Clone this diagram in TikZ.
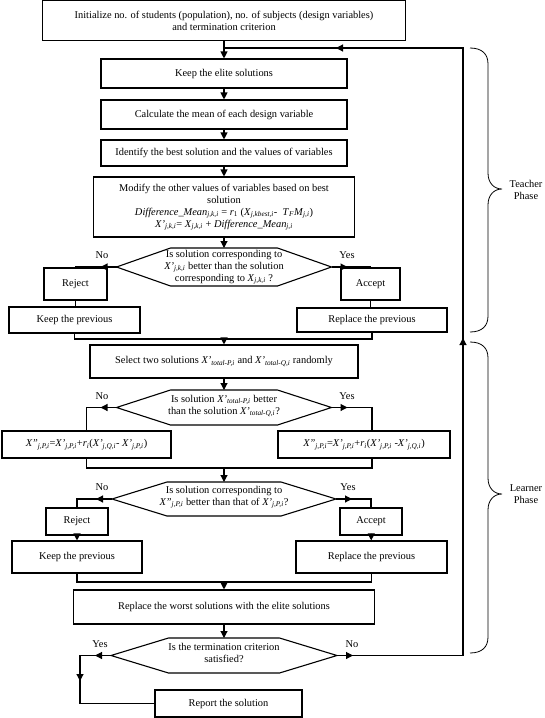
\documentclass[tikz,border=0pt]{standalone}
\usepackage{fontspec}
\setmainfont{Liberation Serif}
\usetikzlibrary{arrows.meta}
\newcommand{\ix}[1]{\textsubscript{\textit{#1}}}
\tikzset{
    box/.style={draw, rectangle, align=center, inner sep=0pt},
    arr/.style={-{Triangle[length=7pt, width=7pt]}},
    lbl/.style={inner sep=0pt}
}
\begin{document}
\begin{tikzpicture}[x=1pt, y=-1pt, line width=1.1pt, every node/.style={font=\fontsize{10.4}{12}\selectfont}]
                \useasboundingbox (0,0) rectangle (545,718);
                \node [box, minimum width=363, minimum height=40] (init) at (224, 20.5) {Initialize no. of students (population), no. of subjects (design variables)\\ and termination criterion};
                \node [box, minimum width=246, minimum height=29] (elite) at (224, 73.5) {Keep the elite solutions};
                \node [box, minimum width=246, minimum height=29] (mean) at (224, 114.5) {Calculate the mean of each design variable};
                \node [box, minimum width=246, minimum height=26] (best) at (224, 153) {Identify the best solution and the values of variables};
                \node [box, minimum width=261, minimum height=60] (modify) at (224, 207) {Modify the other values of variables based on best\\ solution\\ \textit{Difference\_Mean}\ix{j,k,i} = \textit{r}\textsubscript{1} (\textit{X}\ix{j,kbest,i}-\ \ \textit{T}\ix{F}\textit{M}\ix{j,i})\\ \textit{X'}\ix{j,k,i}= \textit{X}\ix{j,k,i} + \textit{Difference\_Mean}\ix{j,i}};
                \node [box, minimum width=63, minimum height=32] (rej1) at (75.5, 284) {Reject};
                \node [box, minimum width=59, minimum height=32] (acc1) at (370.5, 284) {Accept};
                \node [box, minimum width=131, minimum height=26] (keep1) at (74.5, 320) {Keep the previous};
                \node [box, minimum width=150, minimum height=24] (rep1) at (372, 320) {Replace the previous};
                \node [box, minimum width=268, minimum height=33] (select) at (224, 361.5) {Select two solutions \textit{X'}\ix{total-P,i} and \textit{X'}\ix{total-Q,i} randomly};
                \node [box, minimum width=169, minimum height=27] (f1) at (86.5, 444.5) {\textit{X''}\ix{j,P,i}=\textit{X'}\ix{j,P,i}+\textit{r}\ix{i}(\textit{X'}\ix{j,Q,i}- \textit{X'}\ix{j,P,i})};
                \node [box, minimum width=172, minimum height=27] (f2) at (364, 444.5) {\textit{X''}\ix{j,P,i}=\textit{X'}\ix{j,P,i}+\textit{r}\ix{i}(\textit{X'}\ix{j,P,i} -\textit{X'}\ix{j,Q,i})};
                \node [box, minimum width=62, minimum height=27] (rej2) at (77, 521.5) {Reject};
                \node [box, minimum width=62, minimum height=27] (acc2) at (371, 521.5) {Accept};
                \node [box, minimum width=130, minimum height=32] (keep2) at (77, 557) {Keep the previous};
                \node [box, minimum width=151, minimum height=32] (rep2) at (371.5, 557) {Replace the previous};
                \node [box, minimum width=301, minimum height=34] (worst) at (224, 607) {Replace the worst solutions with the elite solutions};
                \node [box, minimum width=147, minimum height=27] (report) at (228.5, 703.5) {Report the solution};

                \foreach \n/\x/\y/\w/\t/\h in {d1/224/267/107.5/53.5/19, d2/224/407.5/107.5/53.5/17.5, d3/224/499/112/57/17, d4/224/655.5/113/55.5/17.5} {
                    \draw (\x-\w,\y) -- (\x-\t,\y-\h) -- (\x+\t,\y-\h) -- (\x+\w,\y) -- (\x+\t,\y+\h) -- (\x-\t,\y+\h) -- cycle;
                    \coordinate (\n-w) at (\x-\w,\y);
                    \coordinate (\n-e) at (\x+\w,\y);
                    \coordinate (\n-n) at (\x,\y-\h);
                    \coordinate (\n-wa) at (\x-\w-16,\y);
                    \coordinate (\n-ea) at (\x+\w+16,\y);
                }
                \node [align=center, lbl] (d1) at (224, 267) {Is solution corresponding to\\ \textit{X'}\ix{j,k,i} better than the solution\\ corresponding to \textit{X}\ix{j,k,i} ?};
                \node [align=center, lbl] (d2) at (224, 406) {Is solution \textit{X'}\ix{total-P,i} better\\ than the solution \textit{X'}\ix{total-Q,i}?};
                \node [align=center, lbl] (d3) at (224, 497) {Is solution corresponding to\\ \textit{X''}\ix{j,P,i} better than that of \textit{X'}\ix{j,P,i}?};
                \node [align=center, lbl] (d4) at (224, 653) {Is the termination criterion\\ satisfied?};

                \node [lbl] (no1) at (102, 255) {No};
                \node [lbl] (yes1) at (347, 255) {Yes};
                \node [lbl] (no2) at (102, 396) {No};
                \node [lbl] (yes2) at (347, 396) {Yes};
                \node [lbl] (no3) at (102, 487) {No};
                \node [lbl] (yes3) at (348, 487) {Yes};
                \node [lbl] (yes4) at (100, 644) {Yes};
                \node [lbl] (no4) at (352, 644) {No};

                \coordinate (j1) at (224, 339);
                \coordinate (j2) at (224, 468);
                \coordinate (j3) at (224, 582);
                \coordinate (down4) at (80, 655.5);
                \coordinate (down4a) at (80, 681);
                \coordinate (corner4) at (463, 655.5);
                \coordinate (upa) at (463, 338);
                \coordinate (loop) at (463, 48);
                \coordinate (loopa) at (336, 48);
                \coordinate (back) at (224, 48);

                \draw [arr] (init) to (elite);
                \draw [arr] (elite) to (mean);
                \draw [arr] (mean) to (best);
                \draw [arr] (best) to (modify);
                \draw [arr] (modify) to (d1-n);
                \draw (d1-w) -| (rej1.north);
                \draw [arr] (d1-w) to (d1-wa);
                \draw (d1-e) -| (acc1.north);
                \draw [arr] (d1-e) to (d1-ea);
                \draw (rej1.south) to (rej1.south |- keep1.north);
                \draw (acc1.south) to (acc1.south |- rep1.north);
                \draw (keep1.south) |- (j1) -| (rep1.south);
                \draw [arr] (j1) to (select);
                \draw [arr] (select) to (d2-n);
                \draw (d2-w) -| (f1.north);
                \draw [arr] (d2-w) to (d2-wa);
                \draw (d2-e) -| ([xshift=8pt]f2.north);
                \draw [arr] (d2-e) to (d2-ea);
                \draw (f1.south) |- (j2) -| ([xshift=8pt]f2.south);
                \draw [arr] (j2) to (d3-n);
                \draw (d3-w) -| (rej2.north);
                \draw [arr] (d3-w) to (d3-wa);
                \draw (d3-e) -| (acc2.north);
                \draw [arr] (d3-e) to (d3-ea);
                \draw [arr] (rej2) to (keep2);
                \draw [arr] (acc2) to (rep2);
                \draw (keep2.south) |- (j3) -| (rep2.south);
                \draw [arr] (j3) to (worst);
                \draw [arr] (worst) to (d4-n);
                \draw (d4-w) -- (down4) |- (report.west);
                \draw [arr] (d4-w) to (d4-wa);
                \draw [arr] (down4) to (down4a);
                \draw (d4-e) -- (corner4) -- (loop) -- (back);
                \draw [arr] (d4-e) to (d4-ea);
                \draw [arr] (corner4) to (upa);
                \draw [arr] (loop) to (loopa);

                \foreach \t/\m/\b in {48/189/332, 342/494/653}
                    \draw [line width=0.8pt] (470,\t) .. controls (482,\t) and (488,\t+6) .. (488,\t+16) -- (488,\m-16) .. controls (488,\m-6) and (494,\m) .. (502,\m) .. controls (494,\m) and (488,\m+6) .. (488,\m+16) -- (488,\b-16) .. controls (488,\b-6) and (482,\b) .. (470,\b);
                \node [align=center, lbl] (teacher) at (526, 190) {Teacher\\ Phase};
                \node [align=center, lbl] (learner) at (526, 494) {Learner\\ Phase};
\end{tikzpicture}
\end{document}
